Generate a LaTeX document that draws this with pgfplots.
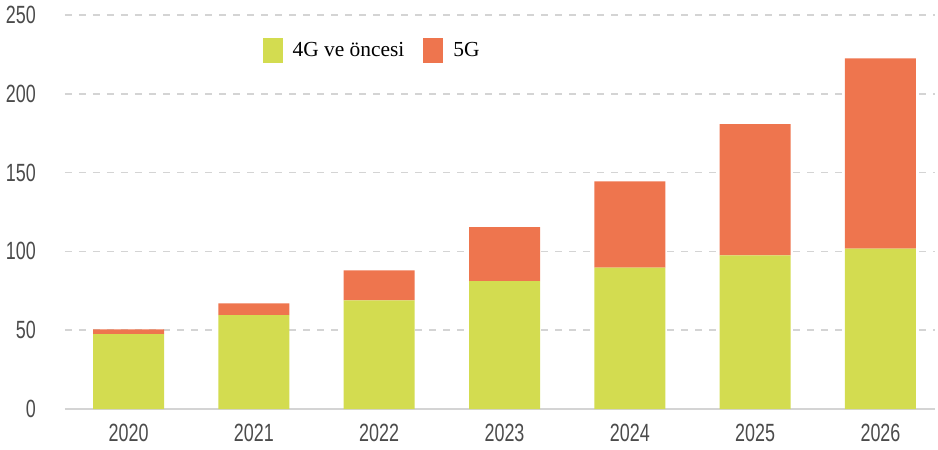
\documentclass[border=0pt]{standalone}
\usepackage{pgfplots}
\pgfplotsset{compat=1.18}
\usepackage{fontspec}
\setmainfont{Liberation Serif}
\newfontfamily\narrow[FakeStretch=0.72]{Liberation Sans}
\definecolor{cgreen}{RGB}{211,220,80}
\definecolor{corange}{RGB}{238,117,78}
\definecolor{tickgray}{RGB}{75,75,75}
\definecolor{gridgray}{RGB}{212,212,212}
\begin{document}
\begin{tikzpicture}
\useasboundingbox (-65bp,-41bp) rectangle (873bp,409bp);
\begin{axis}[
  at={(0,0)}, anchor=south west,
  scale only axis, width=870bp, height=394bp,
  ybar stacked, bar width=71bp,
  xmin=-0.507, xmax=6.435, ymin=0, ymax=250,
  xtick={0,1,2,3,4,5,6},
  xticklabels={2020,2021,2022,2023,2024,2025,2026},
  ytick={0,50,100,150,200,250},
  axis line style={draw=none},
  major tick length=0pt,
  ymajorgrids,
  grid style={gridgray, dash pattern=on 7bp off 7bp, line width=1.5bp},
  /pgf/number format/assume math mode=true,
  tick label style={font=\narrow\fontsize{25}{25}\selectfont, text=tickgray, inner sep=0pt},
  yticklabel style={anchor=east, xshift=-29bp},
  xticklabel style={anchor=north, yshift=-15bp},
  legend style={at={(0.2234,0.911)}, anchor=west, draw=none, fill=none,
    font=\fontsize{21.5}{21.5}\selectfont, legend columns=2,
    /tikz/every odd column/.append style={column sep=8bp},
    /tikz/every even column/.append style={column sep=17bp}},
  legend image code/.code={\fill[#1] (0bp,-12.5bp) rectangle (20bp,12.5bp);},
]
\addplot[fill=cgreen, draw=none] coordinates {(0,47.5) (1,59.5) (2,69) (3,81.2) (4,89.7) (5,97.5) (6,101.7)};
\addplot[fill=corange, draw=none] coordinates {(0,3.1) (1,7.5) (2,19) (3,34.2) (4,54.8) (5,83.3) (6,120.7)};
\legend{4G ve öncesi, 5G}
\draw[gridgray, line width=2bp] (axis cs:-0.507,0) -- (axis cs:6.435,0);
\end{axis}
\end{tikzpicture}
\end{document}
